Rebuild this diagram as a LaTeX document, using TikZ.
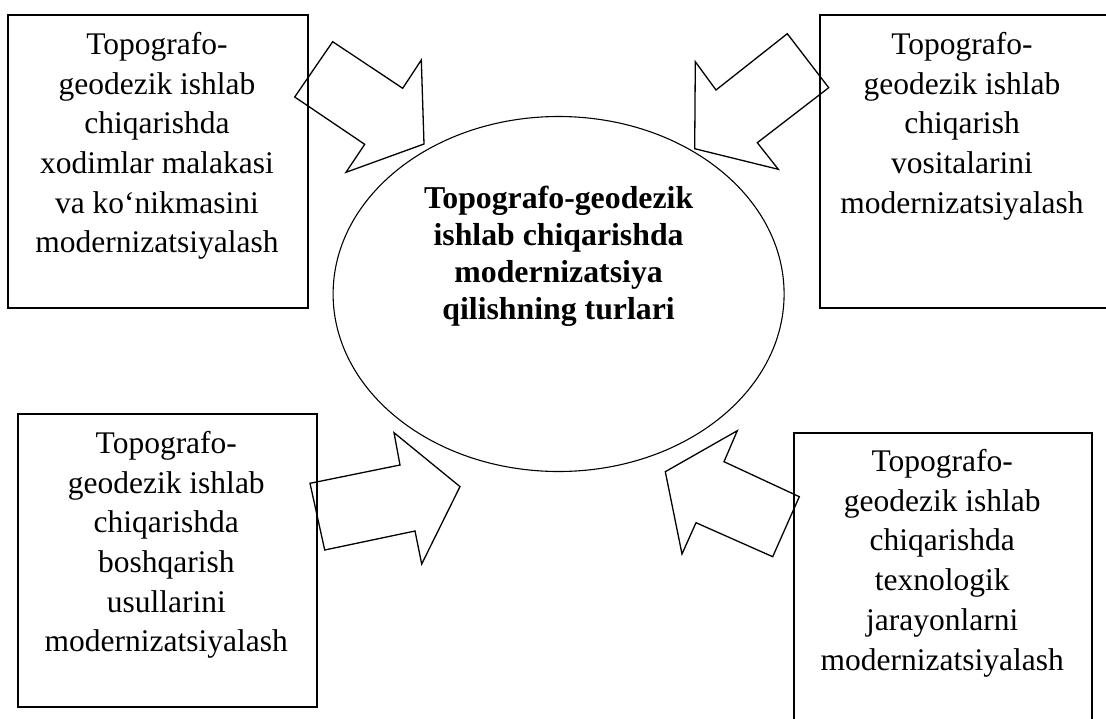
\documentclass[tikz,border=0pt]{standalone}
\usepackage{fontspec}
\setmainfont{Liberation Serif}
\usetikzlibrary{shapes.geometric}

\begin{document}
\begin{tikzpicture}[x=1pt,y=-1pt, bnode/.style={draw,line width=1.8pt,anchor=north west,inner sep=0pt}, enode/.style={draw,ellipse,line width=1.1pt,minimum width=451pt,minimum height=355pt,inner sep=0pt}, tnode/.style={align=center,anchor=base,inner sep=0pt,font=\fontsize{31.5}{39.7}\selectfont}, cnode/.style={align=center,anchor=base,inner sep=0pt,font=\fontsize{31.8}{37.2}\selectfont\bfseries}]
    \useasboundingbox (0,0) rectangle (1106,718);

    % anchor=base is the baseline of the last line
    \node[enode] (c) at (558.6,294) {};
    \node[cnode] (ct) at (558.6,319.9) {Topografo-geodezik\\ishlab chiqarishda\\modernizatsiya\\qilishning turlari};

    \node[bnode,minimum width=299.4pt,minimum height=292.4pt] (b1) at (7.3,14.3) {};
    \node[bnode,minimum width=292pt,minimum height=292.4pt] (b2) at (818.7,14.3) {};
    \node[bnode,minimum width=299.3pt,minimum height=292.4pt] (b3) at (16.7,413.3) {};
    \node[bnode,minimum width=297.7pt,minimum height=310pt] (b4) at (793.3,431.7) {};

    \node[tnode] (t1) at (157,252.8) {Topografo-\\geodezik ishlab\\chiqarishda\\xodimlar malakasi\\va ko‘nikmasini\\modernizatsiyalash};
    \node[tnode] (t2) at (962,213.1) {Topografo-\\geodezik ishlab\\chiqarish\\vositalarini\\modernizatsiyalash};
    \node[tnode] (t3) at (166.3,651.8) {Topografo-\\geodezik ishlab\\chiqarishda\\boshqarish\\usullarini\\modernizatsiyalash};
    \node[tnode] (t4) at (942.2,670) {Topografo-\\geodezik ishlab\\chiqarishda\\texnologik\\jarayonlarni\\modernizatsiyalash};

   \begin{scope}[line width=1.3pt,line join=miter]
    \draw (332.7,41.7) -- (402.7,88.3) -- (421.3,60) -- (424,144) -- (346,172.3) -- (364.7,144.3) -- (294.7,97) -- cycle;
    \draw (787.3,33.7) -- (716,90) -- (695.3,61.7) -- (694.7,148.7) -- (778.3,169.3) -- (757.3,142.7) -- (828.7,87.7) -- cycle;
    \draw (310,483.3) -- (400,465) -- (394,432.7) -- (460,486.6) -- (421.7,564) -- (415,531) -- (324.7,550) -- cycle;
    \draw (799.3,496.7) -- (724,461.7) -- (737.3,430.7) -- (665.3,471.7) -- (682,554) -- (696,522.7) -- (772.7,556.7) -- cycle;
   \end{scope}
\end{tikzpicture}
\end{document}
